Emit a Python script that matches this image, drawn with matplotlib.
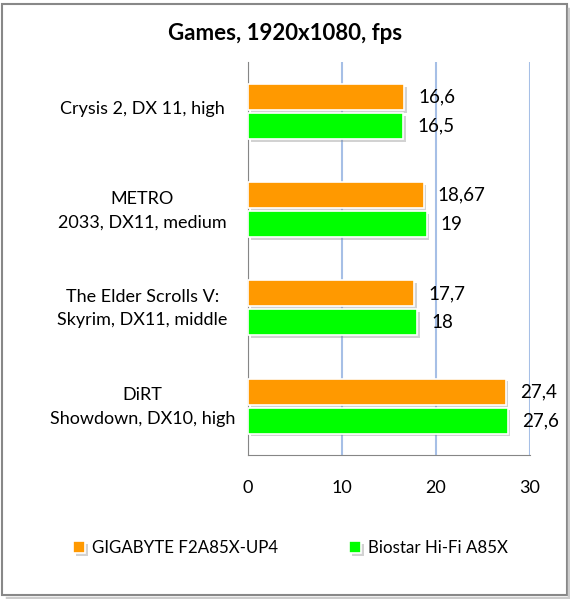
import numpy as np
import matplotlib.pyplot as plt
import matplotlib.patheffects as pe
import matplotlib.transforms as mtrans
from matplotlib.patches import Rectangle
from matplotlib.lines import Line2D

plt.rcParams['font.family'] = ['Lato', 'DejaVu Sans']

games = ['Crysis 2, DX 11, high', 'METRO\n2033, DX11, medium',
         'The Elder Scrolls V:\nSkyrim, DX11, middle', 'DiRT\nShowdown, DX10, high']
gigabyte = [16.6, 18.67, 17.7, 27.4]
biostar = [16.5, 19, 18, 27.6]
gigabyte_lbl = ['16,6', '18,67', '17,7', '27,4']
biostar_lbl = ['16,5', '19', '18', '27,6']
series = ['GIGABYTE F2A85X-UP4', 'Biostar Hi-Fi A85X']

orange = '#FF9900'
green = '#00FF00'

fig = plt.figure(figsize=(5.7, 5.99), dpi=100)
ax = fig.add_axes([0.435, 0.24, 0.495, 0.656])

y = np.arange(len(games))
h = 0.265
shadow = [pe.SimplePatchShadow(offset=(2, -2), alpha=0.35, shadow_rgbFace='grey'), pe.Normal()]

b1 = ax.barh(y - h / 2 - 0.015, gigabyte, height=h, color=orange, edgecolor='white',
             linewidth=1.2, label=series[0], zorder=3)
b2 = ax.barh(y + h / 2 + 0.015, biostar, height=h, color=green, edgecolor='white',
             linewidth=1.2, label=series[1], zorder=3)
for b in list(b1) + list(b2):
    b.set_path_effects(shadow)

for yi, v, t in zip(y, gigabyte, gigabyte_lbl):
    ax.text(v + 1.5, yi - h / 2 - 0.015, t, va='center', ha='left', fontsize=13.5)
for yi, v, t in zip(y, biostar, biostar_lbl):
    ax.text(v + 1.5, yi + h / 2 + 0.015, t, va='center', ha='left', fontsize=13.5)

ax.set_xlim(0, 30)
ax.set_ylim(len(games) - 0.5, -0.5)
ax.set_xticks([0, 10, 20, 30])
ax.set_yticks(y)
ax.set_yticklabels(games, fontsize=13, ha='center', linespacing=1.55)
ax.tick_params(axis='y', length=0, pad=76)
ax.tick_params(axis='x', length=0, pad=18, labelsize=13)
# nudge the category labels up a little, as in the original
lift = mtrans.ScaledTranslation(0, 3 / 72, fig.dpi_scale_trans)
for lab in ax.get_yticklabels():
    lab.set_transform(lab.get_transform() + lift)
ax.xaxis.grid(True, color='#A6BFE6', linewidth=1.5, zorder=0)
ax.set_axisbelow(True)
for s in ['top', 'right']:
    ax.spines[s].set_visible(False)
for s in ['left', 'bottom']:
    ax.spines[s].set_color('#868686')

fig.suptitle('Games, 1920x1080, fps', y=0.962, fontsize=16, fontweight='bold')

fig.legend(handles=[b1, b2], labels=series, loc='center', bbox_to_anchor=(0.51, 0.085),
           ncol=2, frameon=False, fontsize=12.2, handlelength=0.7, handleheight=0.7,
           columnspacing=4.2, handletextpad=0.4)

# frame with a soft shadow on the right and bottom
fig.lines.append(Line2D([0.998, 0.998, 0.012], [0.985, 0.0025, 0.0025], transform=fig.transFigure,
                        color='#cccccc', linewidth=2.5))
fig.patches.append(Rectangle((0.004, 0.006), 0.99, 0.987, transform=fig.transFigure,
                             facecolor='white', edgecolor='#888888', linewidth=1.5, zorder=-1))

fig.savefig('out.png', dpi=100)
